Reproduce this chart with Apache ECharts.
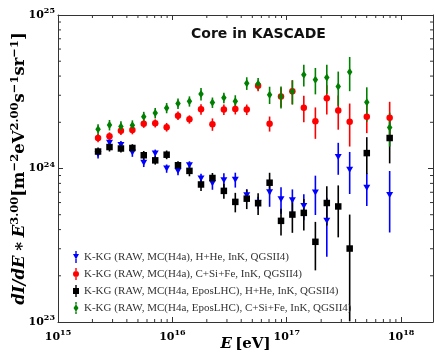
<!DOCTYPE html>
<html>
<head>
<meta charset="utf-8">
<script src="https://cdn.jsdelivr.net/npm/echarts@6/dist/echarts.min.js"></script>
<style>
  html, body { margin: 0; padding: 0; background: #fff; }
  #chart { width: 434px; height: 358px; }
</style>
</head>
<body>
<div id="chart"></div>
<script>
// energy bin centres [eV]
const energy = [2.24e15, 2.82e15, 3.55e15, 4.47e15, 5.62e15, 7.08e15, 8.91e15,
  1.12e16, 1.41e16, 1.78e16, 2.24e16, 2.82e16, 3.55e16, 4.47e16, 5.62e16, 7.08e16, 8.91e16,
  1.12e17, 1.41e17, 1.78e17, 2.24e17, 2.82e17, 3.55e17, 5.01e17, 7.94e17];

// K-KG (RAW, MC(H4a), H+He, InK, QGSII4)
const blueVal = [1.24e24, 1.47e24, 1.42e24, 1.27e24, 1.09e24, 1.25e24, 1.00e24, 0.965e24, 1.05e24,
  0.861e24, 0.802e24, 0.839e24, 0.845e24, 0.670e24, 0.598e24, 0.701e24, 0.631e24, 0.621e24,
  0.570e24, 0.698e24, 0.456e24, 1.19e24, 0.982e24, 0.750e24, 0.673e24];
const blueErr = [0.077e24, 0.09e24, 0.088e24, 0.079e24, 0.068e24, 0.078e24, 0.062e24, 0.06e24, 0.065e24,
  0.065e24, 0.075e24, 0.093e24, 0.094e24, 0.063e24, 0.056e24, 0.138e24, 0.124e24, 0.11e24,
  0.11e24, 0.20e24, 0.19e24, 0.28e24, 0.30e24, 0.18e24, 0.29e24];

// K-KG (RAW, MC(H4a), C+Si+Fe, InK, QGSII4)
const redVal = [1.58e24, 1.62e24, 1.76e24, 1.78e24, 1.96e24, 1.97e24, 1.86e24, 2.21e24, 2.09e24,
  2.43e24, 1.94e24, 2.42e24, 2.44e24, 2.42e24, 3.46e24, 1.96e24, 2.94e24, 3.19e24,
  2.49e24, 2.03e24, 2.87e24, 2.39e24, 2.02e24, 2.17e24, 2.14e24];
const redErr = [0.10e24, 0.10e24, 0.11e24, 0.11e24, 0.12e24, 0.12e24, 0.12e24, 0.14e24, 0.13e24,
  0.19e24, 0.18e24, 0.19e24, 0.19e24, 0.19e24, 0.27e24, 0.22e24, 0.43e24, 0.57e24,
  0.49e24, 0.47e24, 0.62e24, 0.60e24, 0.63e24, 0.47e24, 0.58e24];

// K-KG (RAW, MC(H4a, EposLHC), H+He, InK, QGSII4)
const blackVal = [1.29e24, 1.38e24, 1.35e24, 1.36e24, 1.22e24, 1.13e24, 1.23e24, 1.05e24, 0.965e24,
  0.787e24, 0.867e24, 0.715e24, 0.606e24, 0.636e24, 0.594e24, 0.808e24, 0.456e24, 0.501e24,
  0.514e24, 0.333e24, 0.596e24, 0.566e24, 0.301e24, 1.26e24, 1.58e24];
const blackErr = [0.08e24, 0.09e24, 0.08e24, 0.08e24, 0.08e24, 0.07e24, 0.08e24, 0.065e24, 0.075e24,
  0.074e24, 0.068e24, 0.08e24, 0.088e24, 0.092e24, 0.096e24, 0.13e24, 0.09e24, 0.12e24,
  0.12e24, 0.116e24, 0.17e24, 0.21e24, 0.20e24, 0.34e24, 0.50e24];

// K-KG (RAW, MC(H4a, EposLHC), C+Si+Fe, InK, QGSII4)
const greenVal = [1.80e24, 1.92e24, 1.88e24, 1.91e24, 2.17e24, 2.30e24, 2.48e24, 2.65e24, 2.74e24,
  3.06e24, 2.69e24, 2.89e24, 2.74e24, 3.59e24, 3.56e24, 3.02e24, 2.94e24, 3.18e24,
  4.08e24, 3.78e24, 3.91e24, 3.42e24, 4.26e24, 2.70e24, 1.85e24];
const greenErr = [0.14e24, 0.15e24, 0.15e24, 0.15e24, 0.17e24, 0.18e24, 0.19e24, 0.21e24, 0.21e24,
  0.29e24, 0.21e24, 0.23e24, 0.26e24, 0.34e24, 0.33e24, 0.39e24, 0.48e24, 0.57e24,
  0.66e24, 0.74e24, 0.84e24, 0.86e24, 1.07e24, 0.68e24, 0.46e24];

const seriesNames = [
  'K-KG (RAW, MC(H4a), H+He, InK, QGSII4)',
  'K-KG (RAW, MC(H4a), C+Si+Fe, InK, QGSII4)',
  'K-KG (RAW, MC(H4a, EposLHC), H+He, InK, QGSII4)',
  'K-KG (RAW, MC(H4a, EposLHC), C+Si+Fe, InK, QGSII4)'
];
const seriesColors = ['#0000ff', '#ff0000', '#000000', '#008000'];

// log minor tick positions (2..9 per decade)
const xMinorTicks = [];
for (let d = 15; d <= 17; d++) for (let m = 2; m <= 9; m++) xMinorTicks.push(m * Math.pow(10, d));
const yMinorTicks = [];
for (let d = 23; d <= 24; d++) for (let m = 2; m <= 9; m++) yMinorTicks.push(m * Math.pow(10, d));

const X_MIN = 1e15, X_MAX = 1.9e18;
const Y_MIN = 1e23, Y_MAX = 1e25;
const AXIS_COLOR = '#333';

const chart = echarts.init(document.getElementById('chart'), null, { renderer: 'canvas' });

const tickRich = {
  b: { fontFamily: 'DejaVu Serif', fontWeight: 'bold', fontSize: 11, color: '#000', lineHeight: 12 },
  s: { fontFamily: 'DejaVu Serif', fontWeight: 'bold', fontSize: 8, color: '#000', lineHeight: 8, padding: [0, 0, 8, 0] }
};
const powLabel = v => '{b|10}{s|' + Math.round(Math.log10(v)) + '}';

function errSeries(name, vals, errs, color) {
  return {
    type: 'custom',
    name: name,
    clip: true,
    silent: true,
    itemStyle: { color: color },
    renderItem: function (params, api) {
      const x = api.value(0), y = api.value(1), e = api.value(2);
      const top = api.coord([x, y + e]);
      const bot = api.coord([x, Math.max(y - e, 1e21)]);
      return {
        type: 'line',
        shape: { x1: top[0], y1: top[1], x2: bot[0], y2: bot[1] },
        style: { stroke: color, lineWidth: 1.6 }
      };
    },
    encode: { x: 0, y: 1 },
    data: energy.map((x, i) => [x, vals[i], errs[i]])
  };
}

function markSeries(name, vals, color, symbol, size, rotate) {
  return {
    type: 'scatter',
    name: name,
    symbol: symbol,
    symbolSize: size,
    symbolRotate: rotate || 0,
    itemStyle: { color: color, opacity: 1 },
    emphasis: { disabled: true },
    data: energy.map((x, i) => [x, vals[i]])
  };
}

const minorTickSeries = {
  type: 'custom',
  silent: true,
  clip: false,
  renderItem: function (params, api) {
    const cs = params.coordSys;
    const kind = api.value(2);
    const len = 3;
    const st = { stroke: AXIS_COLOR, lineWidth: 1 };
    if (kind === 0) {
      const px = api.coord([api.value(0), 1e24])[0];
      return { type: 'group', children: [
        { type: 'line', shape: { x1: px, y1: cs.y + cs.height, x2: px, y2: cs.y + cs.height - len }, style: st },
        { type: 'line', shape: { x1: px, y1: cs.y, x2: px, y2: cs.y + len }, style: st }
      ] };
    }
    const py = api.coord([1e16, api.value(1)])[1];
    return { type: 'group', children: [
      { type: 'line', shape: { x1: cs.x, y1: py, x2: cs.x + len, y2: py }, style: st },
      { type: 'line', shape: { x1: cs.x + cs.width, y1: py, x2: cs.x + cs.width - len, y2: py }, style: st }
    ] };
  },
  encode: { x: 0, y: 1 },
  data: xMinorTicks.map(v => [v, 1e24, 0]).concat(yMinorTicks.map(v => [1e16, v, 1]))
};

const baseX = {
  type: 'log', logBase: 10, min: X_MIN, max: X_MAX,
  axisLine: { show: true, lineStyle: { color: AXIS_COLOR, width: 1 } },
  axisTick: { show: true, inside: true, length: 5, lineStyle: { color: AXIS_COLOR } },
  splitLine: { show: false }
};
const baseY = {
  type: 'log', logBase: 10, min: Y_MIN, max: Y_MAX,
  axisLine: { show: true, lineStyle: { color: AXIS_COLOR, width: 1 } },
  axisTick: { show: true, inside: true, length: 5, lineStyle: { color: AXIS_COLOR } },
  splitLine: { show: false }
};

// error bar split above / below the marker so the fill never cancels out
const legendIcons = [
  'path://M2.3 0h1.4v3h-1.4zM2.3 8h1.4v4h-1.4zM0 3h6l-3 5.5z',
  'path://M2.3 0h1.4v3.2h-1.4zM2.3 8.8h1.4v3.2h-1.4zM0 6a3 3 0 1 0 6 0a3 3 0 1 0 -6 0z',
  'path://M2.3 0h1.4v3h-1.4zM2.3 9h1.4v3h-1.4zM0 3h6v6h-6z',
  'path://M2.3 0h1.4v2.4h-1.4zM2.3 9.6h1.4v2.4h-1.4zM3 2.2l2.5 3.8l-2.5 3.8l-2.5 -3.8z'
];

chart.setOption({
  animation: false,
  title: {
    text: 'Core in KASCADE',
    left: 186, top: 22,
    textStyle: { fontFamily: 'DejaVu Sans', fontWeight: 'bold', fontSize: 14, color: '#111' }
  },
  grid: { left: 58, right: 1, top: 15, bottom: 36, containLabel: false, outerBoundsMode: 'none' },
  legend: {
    orient: 'vertical',
    left: 68, top: 246,
    itemWidth: 6, itemHeight: 12, itemGap: 5,
    selectedMode: false,
    textStyle: { fontFamily: 'Liberation Serif', fontSize: 11, color: '#333' },
    data: seriesNames.map((n, i) => ({
      name: n,
      icon: legendIcons[i],
      itemStyle: { color: seriesColors[i], borderWidth: 0 }
    }))
  },
  xAxis: [
    Object.assign({}, baseX, {
      position: 'bottom',
      name: '{i|E} {b|[eV]}',
      nameLocation: 'middle',
      nameGap: 15,
      nameMoveOverlap: false,
      nameTextStyle: {
        rich: {
          i: { fontFamily: 'DejaVu Serif', fontWeight: 'bold', fontStyle: 'italic', fontSize: 15, color: '#000' },
          b: { fontFamily: 'DejaVu Serif', fontWeight: 'bold', fontSize: 15, color: '#000' }
        }
      },
      axisLabel: { formatter: powLabel, rich: tickRich, margin: 9, showMaxLabel: false }
    }),
    Object.assign({}, baseX, { position: 'top', axisLabel: { show: false } })
  ],
  yAxis: [
    Object.assign({}, baseY, {
      position: 'left',
      name: '{i|dI/dE} {b|∗} {i|E}{s|3.00}{b|[m}{s|−2}{b|eV}{s|2.00}{b|s}{s|−1}{b|sr}{s|−1}{b|]}',
      nameLocation: 'middle',
      nameRotate: 90,
      nameGap: 30,
      nameMoveOverlap: false,
      nameTextStyle: {
        rich: {
          i: { fontFamily: 'DejaVu Serif', fontWeight: 'bold', fontStyle: 'italic', fontSize: 16.5, color: '#000', lineHeight: 16 },
          b: { fontFamily: 'DejaVu Serif', fontWeight: 'bold', fontSize: 16.5, color: '#000', lineHeight: 16 },
          s: { fontFamily: 'DejaVu Serif', fontWeight: 'bold', fontSize: 11.5, color: '#000', lineHeight: 10, padding: [0, 0, 10, 0] }
        }
      },
      axisLabel: { formatter: powLabel, rich: tickRich, margin: 3 }
    }),
    Object.assign({}, baseY, { position: 'right', axisLabel: { show: false } })
  ],
  series: [
    minorTickSeries,
    errSeries(seriesNames[0], blueVal, blueErr, seriesColors[0]),
    markSeries(seriesNames[0], blueVal, seriesColors[0], 'triangle', [7, 6], 180),
    errSeries(seriesNames[1], redVal, redErr, seriesColors[1]),
    markSeries(seriesNames[1], redVal, seriesColors[1], 'circle', 6.5),
    errSeries(seriesNames[2], blackVal, blackErr, seriesColors[2]),
    markSeries(seriesNames[2], blackVal, seriesColors[2], 'rect', 6.5),
    errSeries(seriesNames[3], greenVal, greenErr, seriesColors[3]),
    markSeries(seriesNames[3], greenVal, seriesColors[3], 'diamond', [5.5, 8])
  ]
});
</script>
</body>
</html>
